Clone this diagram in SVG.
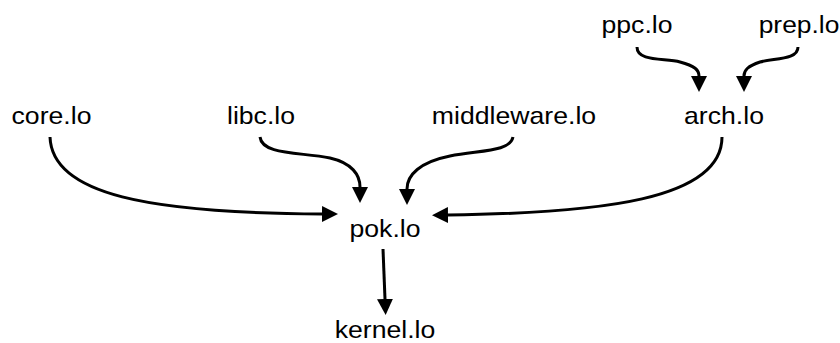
<svg xmlns="http://www.w3.org/2000/svg" width="840" height="343" viewBox="0 0 840 343">
<defs>
<style>
text{font-family:"Liberation Sans",Arial,sans-serif;font-size:24px;fill:#000;text-anchor:middle}
.e{fill:none;stroke:#000;stroke-width:3;marker-end:url(#ah)}
</style>
<marker id="ah" markerUnits="userSpaceOnUse" markerWidth="16" markerHeight="16" refX="0" refY="7.5" orient="auto" viewBox="0 0 15 15"><path d="M0,0 L15,7.5 L0,15 z" fill="#000"/></marker>
</defs>
<rect width="840" height="343" fill="#fff"/>
<g id="connectors">
<path class="e" d="M50,137 C 52,195 150,213 322,214"/>
<path class="e" d="M260,137 C 262,155 300,152 330,158 C 352,163 360,175 360,187"/>
<path class="e" d="M513,137 C 510,152 480,150 450,156 C 420,162 407,175 407,189"/>
<path class="e" d="M722,137 C 722,200 600,213 448,215"/>
<path class="e" d="M637,47 C 637,62 665,58 680,62 C 695,66 699,70 699,76"/>
<path class="e" d="M798,47 C 798,60 775,58 760,62 C 748,66 744,70 744,76"/>
<path class="e" d="M383,249 L385,299"/>
</g>
<g id="core"><text transform="translate(51.5,124) scale(1.11,1)">core.lo</text></g>
<g id="libc"><text transform="translate(261,124) scale(1.11,1)">libc.lo</text></g>
<g id="middleware"><text transform="translate(514,124) scale(1.11,1)">middleware.lo</text></g>
<g id="arch"><text transform="translate(724,124) scale(1.11,1)">arch.lo</text></g>
<g id="ppc"><text transform="translate(637,33) scale(1.11,1)">ppc.lo</text></g>
<g id="prep"><text transform="translate(799,33) scale(1.1,1)">prep.lo</text></g>
<g id="pok"><text transform="translate(385,237) scale(1.11,1)">pok.lo</text></g>
<g id="kernel"><text transform="translate(385,338) scale(1.11,1)">kernel.lo</text></g>
</svg>
